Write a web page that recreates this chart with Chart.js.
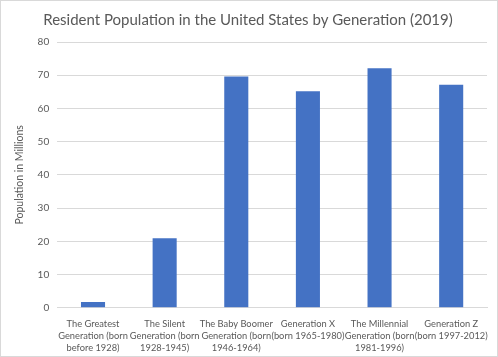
<!DOCTYPE html>
<html><head><meta charset="utf-8">
<script src="https://cdn.jsdelivr.net/npm/chart.js@4"></script>
<style>
html,body{margin:0;padding:0;background:#fff;}
#wrap{position:absolute;left:0;top:0;width:496px;height:355px;border:1px solid #d9d9d9;}
canvas{display:block;}
</style></head><body>
<div id="wrap"><canvas id="c" width="496" height="355"></canvas></div>
<script>
const categories = [
  ["The Greatest","Generation (born","before 1928)"],
  ["The Silent","Generation (born","1928-1945)"],
  ["The Baby Boomer","Generation (born","1946-1964)"],
  ["Generation X","(born 1965-1980)"],
  ["The Millennial","Generation (born","1981-1996)"],
  ["Generation Z","(born 1997-2012)"]
];
const population = [1.7, 20.9, 69.6, 65.2, 72.1, 67.1];
const yTicks = [0,10,20,30,40,50,60,70,80];
const FONT = "Lato, 'Liberation Sans', sans-serif";
new Chart(document.getElementById('c'), {
  type: 'bar',
  data: { labels: categories, datasets: [{ data: population, backgroundColor: '#4472c4', barPercentage: 0.6, categoryPercentage: 0.56 }] },
  options: {
    responsive: false, animation: false,
    layout: { padding: { left: 8, right: 10, top: 4, bottom: 0 } },
    plugins: {
      legend: { display: false }, tooltip: { enabled: false },
      title: { display: true, text: 'Resident Population in the United States by Generation (2019)', color: '#595959',
        font: { family: FONT, size: 15, weight: 'normal' }, padding: { top: 6, bottom: 13 } }
    },
    scales: {
      x: { grid: { display: false }, border: { display: true, color: '#d9d9d9' },
        ticks: { color: '#595959', font: { family: FONT, size: 9.3, lineHeight: 1.3 }, maxRotation: 0, autoSkip: false, padding: 2 } },
      y: { min: 0, max: 80, afterBuildTicks: (s) => { s.ticks = yTicks.map(v => ({ value: v })); },
        grid: { color: '#d9d9d9', drawTicks: false }, border: { display: false },
        ticks: { color: '#595959', font: { family: FONT, size: 10 }, padding: 8 },
        title: { display: true, text: 'Population in Millions', color: '#595959', font: { family: FONT, size: 10.5 }, padding: { bottom: 4 } } }
    }
  }
});
</script></body></html>
